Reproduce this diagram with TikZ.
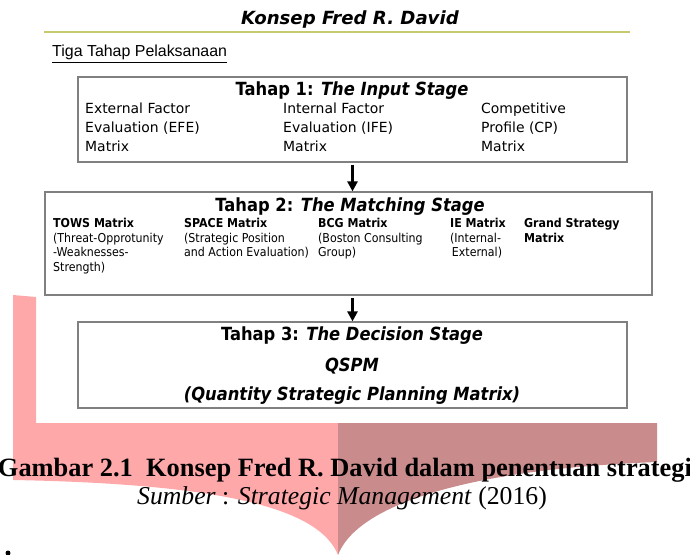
\documentclass[tikz,border=0pt]{standalone}
\usepackage{fontspec}
\setmainfont{Liberation Serif}
\newfontfamily\verdfont{DejaVu Sans}
\newfontfamily\arialfont{Liberation Sans}
\usepackage{xcolor}
\usetikzlibrary{arrows.meta}
\definecolor{pinklight}{RGB}{255,168,170}
\definecolor{pinkdark}{RGB}{201,139,139}
\definecolor{ruleolive}{RGB}{200,200,110}
\definecolor{boxgray}{RGB}{128,128,128}

\begin{document}
\begin{tikzpicture}[x=1bp,y=-1bp]
  \tikzset{stage/.style = {shape=rectangle,draw=boxgray,line width=1.2bp,inner sep=0pt}}
  \tikzset{stagetitle/.style = {inner sep=0pt,xscale=0.9,font=\verdfont\bfseries\fontsize{18.2}{20}\selectfont}}
  \tikzset{inputcol/.style = {anchor=north west,align=left,inner sep=0pt,font=\verdfont\fontsize{14}{19}\selectfont,execute at begin node=\strut}}
  \tikzset{matchcol/.style = {anchor=north west,align=left,inner sep=0pt,xscale=0.9,font=\verdfont\fontsize{12.3}{14.7}\selectfont,execute at begin node=\strut}}
  \tikzset{edge/.style = {line width=2.5bp,shorten <=2bp,-{Triangle[length=10bp,width=10bp]}}}

  \useasboundingbox (0,0) rectangle (690,555);

  % bent arrow behind the caption
  \fill[pinklight] (13,295) -- (36,297) -- (36,423) -- (338,423) -- (338,555)
    .. controls (320,510) and (230,484) .. (13,480) -- cycle;
  \fill[pinkdark] (338,423) -- (657,423) -- (657,462)
    .. controls (450,470) and (355,510) .. (338,555) -- cycle;

  \node[inner sep=0pt,font=\verdfont\bfseries\itshape\fontsize{18.2}{20}\selectfont] (title) at (350,20) {Konsep Fred R. David};
  \draw[ruleolive,line width=1.5bp] (44,32) -- (630,32);
  \node[anchor=base west,inner sep=0pt,font=\arialfont\fontsize{16}{18}\selectfont] (tiga) at (52,57) {\underline{Tiga Tahap Pelaksanaan}};

  % Tahap 1
  \node[stage,minimum width=549bp,minimum height=85bp] (input) at (352.5,119.5) {};
  \node[stagetitle] (inputtitle) at (352,91) {Tahap 1: \textit{The Input Stage}};
  \node[inputcol] (efe) at (85,103) {External Factor\\Evaluation (EFE)\\Matrix};
  \node[inputcol] (ife) at (283,103) {Internal Factor\\Evaluation (IFE)\\Matrix};
  \node[inputcol] (cp) at (481,103) {Competitive\\Profile (CP)\\Matrix};

  % Tahap 2
  \node[stage,minimum width=607bp,minimum height=103bp] (matching) at (348.5,243.5) {};
  \node[stagetitle] (matchingtitle) at (350,207) {Tahap 2: \textit{The Matching Stage}};
  \node[matchcol] (tows) at (53,218) {\textbf{TOWS Matrix}\\(Threat-Opprotunity\\-Weaknesses-\\Strength)};
  \node[matchcol] (space) at (184,218) {\textbf{SPACE Matrix}\\(Strategic Position\\and Action Evaluation)};
  \node[matchcol] (bcg) at (318,218) {\textbf{BCG Matrix}\\(Boston Consulting\\Group)};
  \node[matchcol] (ie) at (450,218) {\textbf{IE Matrix}\\(Internal-\\\hspace{2bp}External)};
  \node[matchcol] (grand) at (524,218) {\textbf{Grand Strategy}\\\textbf{Matrix}};

  % Tahap 3
  \node[stage,minimum width=549bp,minimum height=86bp] (decision) at (352.5,365) {};
  \node[stagetitle] (decisiontitle) at (352,336) {Tahap 3: \textit{The Decision Stage}};
  \node[stagetitle] (qspm) at (352,366) {\textit{QSPM}};
  \node[stagetitle] (qspmlong) at (352,396) {\textit{(Quantity Strategic Planning Matrix)}};

  \foreach \from/\to in {input/matching, matching/decision}
    \path[edge] (\from.south -| input.center) edge (\to.north -| input.center);

  \node[inner sep=0pt,font=\bfseries\fontsize{26.5}{28}\selectfont] (caption) at (345,470)
    {Gambar 2.1\ \ Konsep Fred R. David dalam penentuan strategi};
  \node[inner sep=0pt,font=\fontsize{25.8}{28}\selectfont] (source) at (342,498)
    {\textit{Sumber} : \textit{Strategic Management} (2016)};

  \fill (8,553) circle (2.5);
\end{tikzpicture}
\end{document}
